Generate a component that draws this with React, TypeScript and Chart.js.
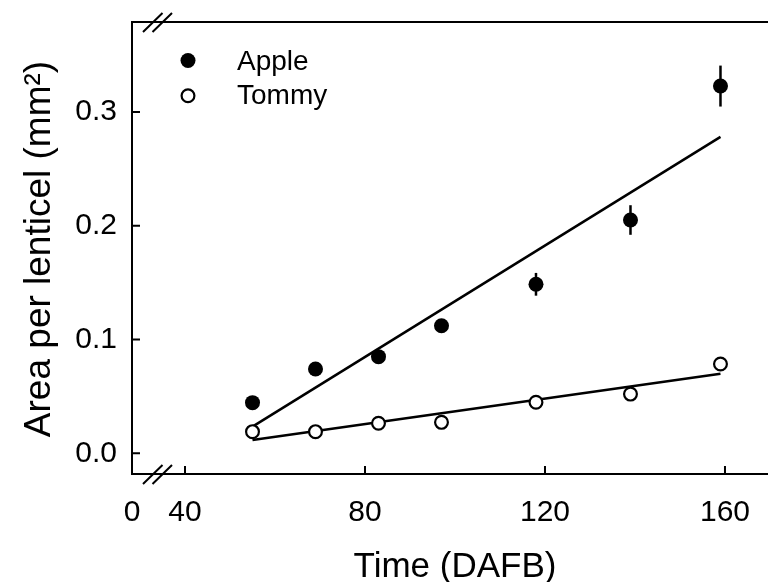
import React, { useEffect, useRef } from "react";
import { Chart, registerables } from "chart.js";

Chart.register(...registerables);

// ---- data ----
const days = [55, 69, 83, 97, 118, 139, 159];
const apple = [0.0445, 0.0741, 0.0849, 0.1121, 0.1485, 0.205, 0.3227];
const appleErr = [0.003, 0.004, 0.004, 0.004, 0.01, 0.013, 0.018];
const tommy = [0.019, 0.019, 0.0264, 0.0272, 0.0448, 0.052, 0.0785];
const tommyErr = [0.002, 0.002, 0.002, 0.002, 0.003, 0.003, 0.004];
const fitDays = [55, 159];
const appleFit = [0.0234, 0.278];
const tommyFit = [0.0117, 0.0698];
const xTicks = [40, 80, 120, 160];
const yTicks = [0, 0.1, 0.2, 0.3];
const xBreakLabel = "0";
const seriesNames = ["Apple", "Tommy"];
const xTitle = "Time (DAFB)";
const yTitle = "Area per lenticel (mm\u00B2)";

const FONT = "'Liberation Sans', Arial, sans-serif";
const X_MIN = 28.22;
const X_MAX = 169.56;
const Y_MIN = -0.0182;
const Y_MAX = 0.379;

const decor = {
  id: "decor",
  beforeDatasetsDraw(chart: any) {
    const ctx = chart.ctx;
    const xs = chart.scales.x;
    const ys = chart.scales.y;
    const sets = [
      { v: apple, e: appleErr },
      { v: tommy, e: tommyErr },
    ];
    ctx.save();
    ctx.strokeStyle = "#000";
    ctx.lineWidth = 2.5;
    sets.forEach((s) => {
      s.v.forEach((v, i) => {
        const px = xs.getPixelForValue(days[i]);
        ctx.beginPath();
        ctx.moveTo(px, ys.getPixelForValue(v - s.e[i]));
        ctx.lineTo(px, ys.getPixelForValue(v + s.e[i]));
        ctx.stroke();
      });
    });
    ctx.restore();
  },
  afterDraw(chart: any) {
    const ctx = chart.ctx;
    const { left, right, top, bottom } = chart.chartArea;
    const xs = chart.scales.x;
    const ys = chart.scales.y;
    ctx.save();
    ctx.strokeStyle = "#000";
    ctx.lineWidth = 2;
    // frame (left, top, bottom)
    ctx.beginPath();
    ctx.moveTo(right + 2, top);
    ctx.lineTo(left, top);
    ctx.lineTo(left, bottom);
    ctx.lineTo(right + 2, bottom);
    ctx.stroke();
    // inward ticks
    ctx.beginPath();
    yTicks.forEach((v) => {
      const py = ys.getPixelForValue(v);
      ctx.moveTo(left, py);
      ctx.lineTo(left + 8, py);
    });
    xTicks.forEach((v) => {
      const px = xs.getPixelForValue(v);
      ctx.moveTo(px, bottom);
      ctx.lineTo(px, bottom - 8);
    });
    ctx.stroke();
    // axis break marks on top and bottom lines
    ctx.beginPath();
    [top, bottom].forEach((yy) => {
      [left + 11, left + 20.5].forEach((x0) => {
        ctx.moveTo(x0, yy + 10);
        ctx.lineTo(x0 + 19.5, yy - 9);
      });
    });
    ctx.stroke();
    // legend
    const lx = 188;
    const rows = [60.5, 95.7];
    ctx.fillStyle = "#000";
    ctx.beginPath();
    ctx.arc(lx, rows[0], 7.5, 0, Math.PI * 2);
    ctx.fill();
    ctx.beginPath();
    ctx.arc(lx, rows[1], 6.4, 0, Math.PI * 2);
    ctx.fillStyle = "#fff";
    ctx.fill();
    ctx.lineWidth = 2.2;
    ctx.stroke();
    ctx.fillStyle = "#000";
    ctx.font = `28px ${FONT}`;
    ctx.textAlign = "left";
    ctx.textBaseline = "alphabetic";
    ctx.fillText(seriesNames[0], 237, 70);
    ctx.fillText(seriesNames[1], 237, 104);
    // axis titles
    ctx.font = `35px ${FONT}`;
    ctx.textAlign = "center";
    ctx.fillText(xTitle, 455, 577);
    ctx.translate(50, 249);
    ctx.rotate(-Math.PI / 2);
    ctx.font = `37px ${FONT}`;
    ctx.fillText(yTitle, 0, 0);
    ctx.restore();
  },
};

export default function App() {
  const ref = useRef<HTMLCanvasElement | null>(null);
  useEffect(() => {
    if (!ref.current) return;
    const chart = new Chart(ref.current, {
      type: "scatter",
      data: {
        datasets: [
          {
            label: seriesNames[0],
            data: days.map((d, i) => ({ x: d, y: apple[i] })),
            pointRadius: 7.5,
            pointBackgroundColor: "#000",
            pointBorderWidth: 0,
            order: 0,
          },
          {
            label: seriesNames[1],
            data: days.map((d, i) => ({ x: d, y: tommy[i] })),
            pointRadius: 6.4,
            pointBackgroundColor: "#fff",
            pointBorderColor: "#000",
            pointBorderWidth: 2.2,
            order: 0,
          },
          {
            label: seriesNames[0] + " fit",
            type: "line",
            data: fitDays.map((d, i) => ({ x: d, y: appleFit[i] })),
            borderColor: "#000",
            borderWidth: 2.5,
            pointRadius: 0,
            fill: false,
            order: 1,
          },
          {
            label: seriesNames[1] + " fit",
            type: "line",
            data: fitDays.map((d, i) => ({ x: d, y: tommyFit[i] })),
            borderColor: "#000",
            borderWidth: 2.5,
            pointRadius: 0,
            fill: false,
            order: 1,
          },
        ] as any,
      },
      options: {
        responsive: false,
        animation: false,
        devicePixelRatio: 1,
        layout: {
          autoPadding: false,
          padding: { top: 22, right: 0, left: 0, bottom: 0 },
        },
        plugins: {
          legend: { display: false },
          tooltip: { enabled: false },
        },
        scales: {
          x: {
            type: "linear",
            min: X_MIN,
            max: X_MAX,
            grid: { display: false },
            border: { display: false },
            afterBuildTicks: (scale: any) => {
              scale.ticks = [X_MIN, ...xTicks].map((v) => ({ value: v }));
            },
            afterFit: (scale: any) => {
              scale.height = 108;
              scale.paddingLeft = 0;
              scale.paddingRight = 0;
            },
            ticks: {
              autoSkip: false,
              maxRotation: 0,
              padding: 13,
              color: "#000",
              font: { family: FONT, size: 30 },
              callback: (value: any, index: number) =>
                index === 0 ? xBreakLabel : String(value),
            },
          },
          y: {
            type: "linear",
            min: Y_MIN,
            max: Y_MAX,
            grid: { display: false },
            border: { display: false },
            afterBuildTicks: (scale: any) => {
              scale.ticks = yTicks.map((v) => ({ value: v }));
            },
            afterFit: (scale: any) => {
              scale.width = 132;
              scale.paddingTop = 0;
              scale.paddingBottom = 0;
            },
            ticks: {
              padding: 7,
              color: "#000",
              font: { family: FONT, size: 30 },
              callback: (value: any) => Number(value).toFixed(1),
            },
          },
        },
      },
      plugins: [decor],
    });
    return () => chart.destroy();
  }, []);
  return (
    <div
      style={{
        position: "fixed",
        left: 0,
        top: 0,
        width: 768,
        height: 582,
        background: "#fff",
        overflow: "hidden",
      }}
    >
      <canvas ref={ref} width={768} height={582} />
    </div>
  );
}
